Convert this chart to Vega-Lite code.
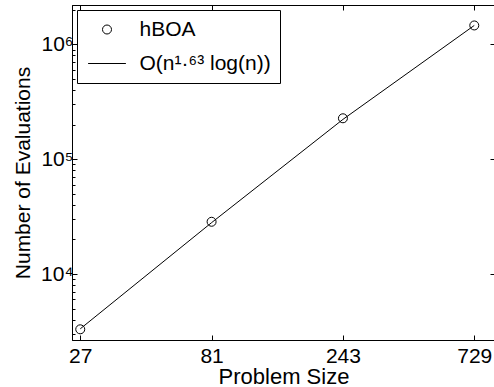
{
  "$schema": "https://vega.github.io/schema/vega-lite/v6.json",
  "width": 423,
  "height": 335,
  "autosize": {"type": "none"},
  "padding": {"left": 72, "top": 5, "right": 0, "bottom": 47},
  "background": "white",
  "datasets": {
    "hboa": [
      {"n": 27, "evals": 3300, "series": "hBOA"},
      {"n": 81, "evals": 28500, "series": "hBOA"},
      {"n": 243, "evals": 227000, "series": "hBOA"},
      {"n": 729, "evals": 1460000, "series": "hBOA"}
    ],
    "fit": [
      {"n": 27, "evals": 3330},
      {"n": 81, "evals": 28000},
      {"n": 243, "evals": 222000},
      {"n": 729, "evals": 1460000}
    ]
  },
  "layer": [
    {
      "data": {"name": "hboa"},
      "mark": {"type": "point", "filled": false, "color": "black", "size": 81, "strokeWidth": 1, "opacity": 1},
      "encoding": {
        "x": {
          "field": "n", "type": "quantitative",
          "scale": {"type": "log", "domain": [25.2, 867], "nice": false},
          "axis": {
            "orient": "bottom", "values": [27, 81, 243, 729], "format": "d",
            "tickSize": -5, "labelPadding": 10, "labelFlush": false, "labelOverlap": false,
            "title": "Problem Size", "titlePadding": 0, "titleFontSize": 22
          }
        },
        "y": {
          "field": "evals", "type": "quantitative",
          "scale": {"type": "log", "domain": [2663, 2200000], "nice": false},
          "axis": {
            "orient": "left",
            "values": [3000, 4000, 5000, 6000, 7000, 8000, 9000, 10000, 20000, 30000, 40000, 50000, 60000, 70000, 80000, 90000, 100000, 200000, 300000, 400000, 500000, 600000, 700000, 800000, 900000, 1000000, 2000000],
            "labelExpr": "datum.value == 10000 ? '10⁴' : datum.value == 100000 ? '10⁵' : datum.value == 1000000 ? '10⁶' : ''",
            "tickSize": {"condition": {"test": "datum.value == 10000 || datum.value == 100000 || datum.value == 1000000", "value": -5}, "value": -3},
            "labelPadding": 4, "labelOverlap": false, "labelFlush": false,
            "title": "Number of Evaluations", "titlePadding": 7, "titleFontSize": 21
          }
        },
        "shape": {
          "field": "series", "type": "nominal",
          "scale": {"domain": ["hBOA", "O(n¹·⁶³ log(n))"], "range": ["M-4.2,0L-4.2,0M4.2,0L4.2,0M1,0A1,1,0,1,1,-1,0A1,1,0,1,1,1,0Z", "M-4.2,0L4.2,0"]},
          "legend": {
            "orient": "top-left", "offset": 5, "title": null, "padding": 9,
            "strokeColor": "black", "fillColor": "white",
            "labelFontSize": 21, "labelFont": "Liberation Sans", "labelColor": "black", "labelLimit": 0,
            "symbolSize": 81, "symbolStrokeColor": "black", "symbolFillColor": "transparent", "symbolStrokeWidth": 1,
            "symbolOffset": 10.5, "labelOffset": 22, "rowPadding": 12
          }
        }
      }
    },
    {
      "data": {"name": "fit"},
      "mark": {"type": "line", "color": "black", "strokeWidth": 1},
      "encoding": {
        "x": {
          "field": "n", "type": "quantitative",
          "axis": {"orient": "top", "values": [27, 81, 243, 729], "labels": false, "title": null, "tickSize": -5}
        },
        "y": {
          "field": "evals", "type": "quantitative",
          "axis": {"orient": "right", "values": [10000, 100000, 1000000], "labels": false, "title": null, "tickSize": -5}
        }
      }
    }
  ],
  "resolve": {"axis": {"x": "independent", "y": "independent"}},
  "config": {
    "view": {"stroke": "black", "strokeWidth": 1},
    "font": "Liberation Sans",
    "axis": {
      "domainColor": "black", "tickColor": "black", "labelColor": "black", "titleColor": "black",
      "labelFont": "Liberation Sans", "titleFont": "Liberation Sans",
      "labelFontSize": 21, "titleFontSize": 22, "titleFontWeight": "normal",
      "grid": false, "domainWidth": 1, "tickWidth": 1
    }
  }
}
